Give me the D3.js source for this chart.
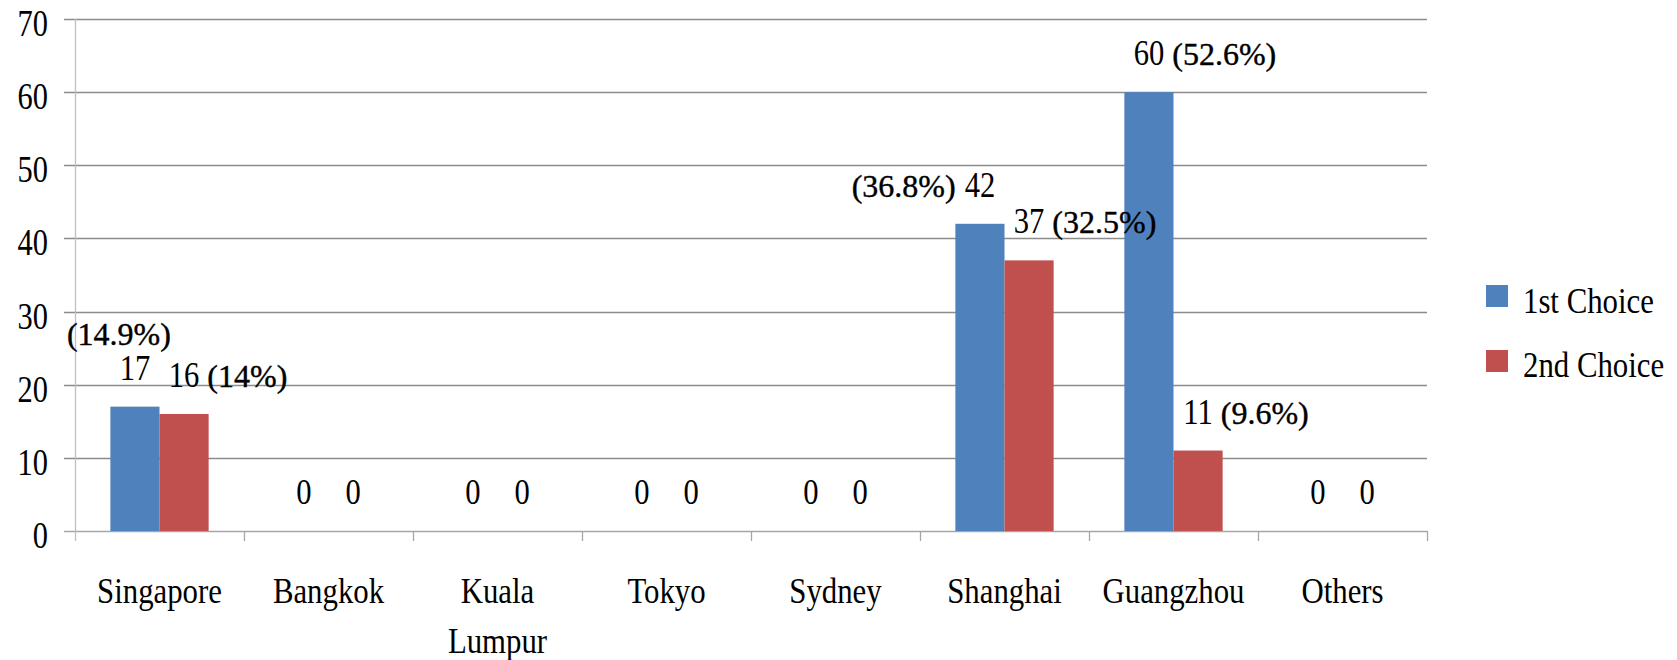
<!DOCTYPE html>
<html>
<head>
<meta charset="utf-8">
<script src="https://cdn.jsdelivr.net/npm/d3@7"></script>
<style>
  html, body { margin: 0; padding: 0; background: #fff; }
  svg { display: block; }
</style>
</head>
<body>
<svg id="chart" width="1677" height="660"></svg>
<script>
// ---- data ----
const categories = ["Singapore", "Bangkok", "Kuala Lumpur", "Tokyo", "Sydney", "Shanghai", "Guangzhou", "Others"];
const categoryLines = [["Singapore"], ["Bangkok"], ["Kuala", "Lumpur"], ["Tokyo"], ["Sydney"], ["Shanghai"], ["Guangzhou"], ["Others"]];
const seriesNames = ["1st Choice", "2nd Choice"];
const firstChoice = [17, 0, 0, 0, 0, 42, 60, 0];
const secondChoice = [16, 0, 0, 0, 0, 37, 11, 0];
const firstPct = ["(14.9%)", null, null, null, null, "(36.8%)", "(52.6%)", null];
const secondPct = ["(14%)", null, null, null, null, "(32.5%)", "(9.6%)", null];
const yTicks = [0, 10, 20, 30, 40, 50, 60, 70];
const colors = ["#4F81BD", "#C0504D"];

// percent label placement relative to the value label
const firstPctPlace = ["above", null, null, null, null, "left", "right", null];
const secondPctPlace = ["right", null, null, null, null, "right", "right", null];

const FONT = '"Liberation Serif", "Tinos", "Times New Roman", serif';

const svg = d3.select("#chart");

const plotLeft = 75, plotRight = 1427, yZero = 531, yTop = 19;

const x = d3.scaleBand().domain(categories).range([plotLeft, plotRight]).paddingInner(0).paddingOuter(0);
const x1 = d3.scaleBand().domain(seriesNames).range([0, x.bandwidth()]).paddingInner(0).paddingOuter(0.72);
const y = d3.scaleLinear().domain([0, 70]).range([yZero, yTop]);

function stext(parent, tx, ty, str, size, sx, anchor) {
  return parent.append("text")
    .attr("transform", `translate(${tx},${ty}) scale(${sx},1)`)
    .attr("text-anchor", anchor || "middle")
    .attr("font-family", FONT)
    .attr("font-size", size)
    .attr("fill", "#000")
    .text(str);
}

// gridlines
svg.append("g").selectAll("line").data(yTicks).join("line")
  .attr("x1", 64).attr("x2", plotRight)
  .attr("y1", d => Math.round(y(d)) + 0.5).attr("y2", d => Math.round(y(d)) + 0.5)
  .attr("stroke", d => d === 0 ? "#A6A6A6" : "#8C8C8C").attr("stroke-width", 1.3);

// y axis line
svg.append("line").attr("x1", plotLeft + 0.5).attr("x2", plotLeft + 0.5)
  .attr("y1", yTop).attr("y2", yZero + 10)
  .attr("stroke", "#BFBFBF").attr("stroke-width", 1.3);

// category tick marks
const bounds = categories.map(c => x(c)).concat([plotRight]);
svg.append("g").selectAll("line").data(bounds.slice(1)).join("line")
  .attr("x1", d => Math.round(d) + 0.5).attr("x2", d => Math.round(d) + 0.5)
  .attr("y1", yZero).attr("y2", yZero + 10)
  .attr("stroke", "#A6A6A6").attr("stroke-width", 1.3);

// y tick labels
const yl = svg.append("g");
yTicks.forEach(t => stext(yl, 48, y(t) + 17, String(t), 38, 0.8, "end"));

// category labels
const cl = svg.append("g");
categories.forEach((c, i) => {
  categoryLines[i].forEach((line, j) => {
    stext(cl, x(c) + x.bandwidth() / 2, 603 + j * 50, line, 35, 0.88, "middle");
  });
});

// bars
const seriesData = [firstChoice, secondChoice];
const bars = svg.append("g");
seriesData.forEach((vals, s) => {
  bars.selectAll(null).data(vals).join("rect")
    .attr("x", (d, i) => x(categories[i]) + x1(seriesNames[s]))
    .attr("width", x1.bandwidth())
    .attr("y", d => y(d))
    .attr("height", d => y(0) - y(d))
    .attr("fill", colors[s]);
});

// value labels + percent labels
const lab = svg.append("g");
const pcts = [firstPct, secondPct];
const places = [firstPctPlace, secondPctPlace];
seriesData.forEach((vals, s) => {
  vals.forEach((v, i) => {
    const cx = x(categories[i]) + x1(seriesNames[s]) + x1.bandwidth() / 2;
    const by = y(v) - 27;
    const sx = 0.85;
    const t = stext(lab, cx, by, String(v), 36, sx, "middle");
    const w = t.node().getComputedTextLength() * sx;
    const p = pcts[s][i];
    if (p) {
      const place = places[s][i];
      const pt = lab.append("text").attr("font-family", FONT).attr("font-size", 32)
        .attr("fill", "#000").attr("stroke", "#000").attr("stroke-width", 0.4).text(p);
      if (place === "right") {
        pt.attr("x", cx + w / 2 + 8).attr("y", by).attr("text-anchor", "start");
      } else if (place === "left") {
        pt.attr("x", cx - w / 2 - 9).attr("y", by).attr("text-anchor", "end");
      } else {
        pt.attr("x", cx - 16).attr("y", by - 35).attr("text-anchor", "middle");
      }
    }
  });
});

// legend
const lg = svg.append("g");
seriesNames.forEach((n, i) => {
  lg.append("rect").attr("x", 1486).attr("y", 285 + i * 65).attr("width", 22).attr("height", 22).attr("fill", colors[i]);
  stext(lg, 1523, 313 + i * 64, n, 35, 0.88, "start");
});
</script>
</body>
</html>
